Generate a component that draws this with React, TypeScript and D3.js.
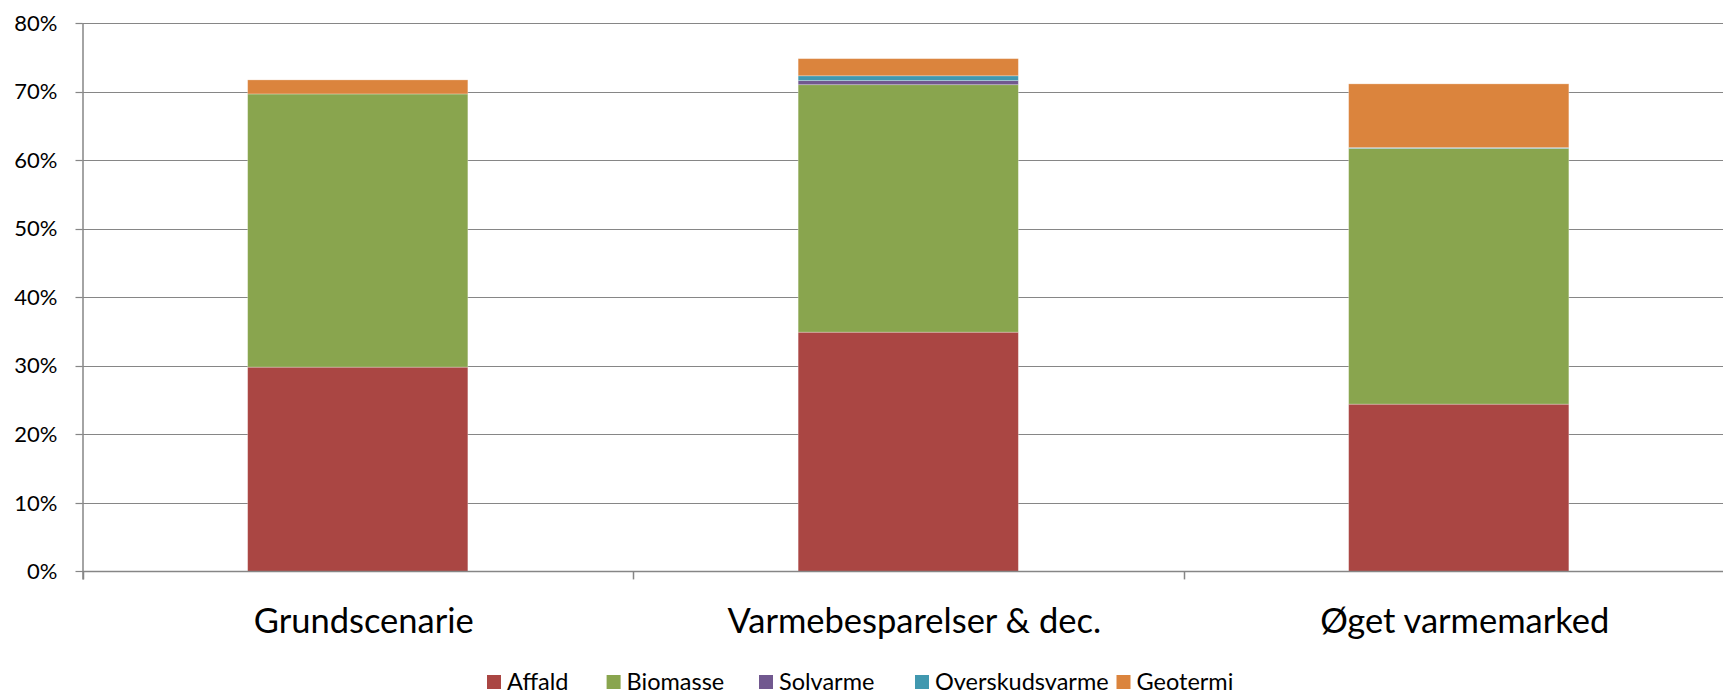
import React, { useEffect, useRef } from "react";
import * as d3 from "d3";

const categories = ["Grundscenarie", "Varmebesparelser & dec.", "Øget varmemarked"];
const seriesNames = ["Affald", "Biomasse", "Solvarme", "Overskudsvarme", "Geotermi"];
const affald = [29.8, 34.9, 24.4];
const biomasse = [39.85, 36.1, 37.3];
const solvarme = [0, 0.6, 0];
const overskudsvarme = [0, 0.7, 0.12];
const geotermi = [2.05, 2.5, 9.3];
const yTicks = [0, 10, 20, 30, 40, 50, 60, 70, 80];
const colors = ["#AA4643", "#89A54E", "#71588F", "#4198AF", "#DB843D"];

const W = 1723;
const H = 694;
const FONT = "Lato, 'Open Sans', sans-serif";

export default function App() {
  const ref = useRef<SVGSVGElement>(null);
  useEffect(() => {
    const svg = d3.select(ref.current);
    svg.selectAll("*").remove();
    const left = 82.5, right = 1734, top = 23, bottom = 571.4;
    const x = d3.scaleBand<string>().domain(categories).range([left, right]).paddingInner(0).paddingOuter(0);
    const y = d3.scaleLinear().domain([0, 80]).range([bottom, top]);
    const data = categories.map((c, i) => ({
      cat: c,
      Affald: affald[i], Biomasse: biomasse[i], Solvarme: solvarme[i],
      Overskudsvarme: overskudsvarme[i], Geotermi: geotermi[i],
    }));
    const stack = d3.stack<any>().keys(seriesNames)(data);

    // gridlines
    svg.append("g").selectAll("line").data(yTicks).join("line")
      .attr("x1", left).attr("x2", right)
      .attr("y1", d => Math.round(y(d)) + 0.5).attr("y2", d => Math.round(y(d)) + 0.5)
      .attr("stroke", "#868686").attr("stroke-width", 1.2);
    // y ticks
    svg.append("g").selectAll("line").data(yTicks).join("line")
      .attr("x1", left - 7).attr("x2", left)
      .attr("y1", d => Math.round(y(d)) + 0.5).attr("y2", d => Math.round(y(d)) + 0.5)
      .attr("stroke", "#868686").attr("stroke-width", 1.2);
    svg.append("g").selectAll("text").data(yTicks).join("text")
      .attr("x", left - 25).attr("y", d => y(d)).attr("dy", "0.35em")
      .attr("text-anchor", "end").attr("font-family", FONT).attr("font-size", 22)
      .attr("fill", "#000").text(d => d + "%");

    // bars
    const bw = x.bandwidth() * 0.4;
    svg.append("g").selectAll("g").data(stack).join("g")
      .attr("fill", (_d, i) => colors[i])
      .selectAll("rect").data(d => d).join("rect")
      .attr("x", (d: any) => (x(d.data.cat) as number) + (x.bandwidth() - bw) / 2)
      .attr("width", bw)
      .attr("y", (d: any) => y(d[1]))
      .attr("height", (d: any) => Math.max(0, y(d[0]) - y(d[1])))
      .attr("stroke", "rgba(255,255,255,0.35)").attr("stroke-width", 0.8);

    // axes lines
    svg.append("line").attr("x1", left + 0.5).attr("x2", left + 0.5).attr("y1", top).attr("y2", bottom + 8)
      .attr("stroke", "#868686").attr("stroke-width", 1.5);
    svg.append("line").attr("x1", left).attr("x2", right).attr("y1", Math.round(bottom) + 0.5).attr("y2", Math.round(bottom) + 0.5)
      .attr("stroke", "#868686").attr("stroke-width", 1.5);
    const bounds = [...categories.map(c => x(c) as number), right];
    svg.append("g").selectAll("line").data(bounds).join("line")
      .attr("x1", d => Math.round(d) + 0.5).attr("x2", d => Math.round(d) + 0.5)
      .attr("y1", bottom).attr("y2", bottom + 8)
      .attr("stroke", "#868686").attr("stroke-width", 1.5);

    svg.append("g").selectAll("text").data(categories).join("text")
      .attr("x", d => (x(d) as number) + x.bandwidth() / 2 + 6).attr("y", 621).attr("dy", "0.35em")
      .attr("text-anchor", "middle").attr("font-family", FONT).attr("font-size", 34.5)
      .attr("fill", "#000").text(d => d);

    // legend
    const legX = [487, 606.6, 759, 915, 1116.5];
    const lg = svg.append("g").selectAll("g").data(seriesNames).join("g")
      .attr("transform", (_d, i) => `translate(${legX[i]},682)`);
    lg.append("rect").attr("x", 0).attr("y", -7).attr("width", 14).attr("height", 14)
      .attr("fill", (_d, i) => colors[i]);
    lg.append("text").attr("x", 20).attr("y", 0).attr("dy", "0.35em")
      .attr("font-family", FONT).attr("font-size", 23.5).attr("fill", "#000").text(d => d);
  }, []);
  return (
    <svg ref={ref} width={W} height={H}
      style={{ position: "absolute", left: 0, top: 0, background: "#fff" }} />
  );
}
